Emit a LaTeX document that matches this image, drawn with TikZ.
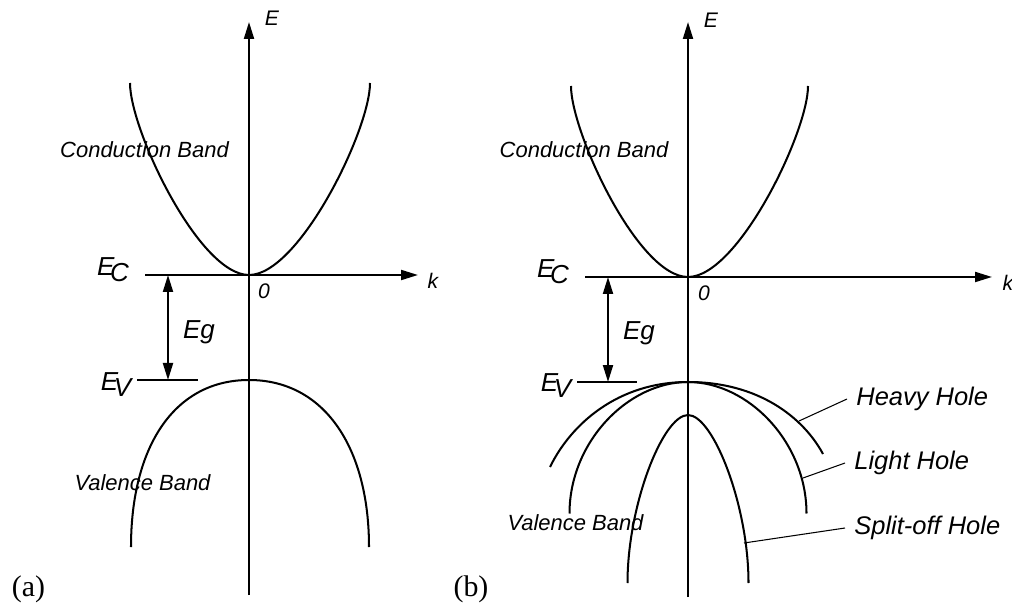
\documentclass[tikz,border=0pt]{standalone}
\usepackage{fontspec}
\setmainfont{Liberation Sans}
\newfontfamily\panelfont{Liberation Serif}
\usetikzlibrary{arrows.meta}
\newcommand{\Elev}[1]{E\kern-0.17em\raisebox{-0.23em}{#1}}

\begin{document}
\begin{tikzpicture}[>={Triangle[length=3.4mm,width=2mm]},
  band/.style={line width=1.15pt},
  axis/.style={line width=1.15pt,->},
  gap/.style={line width=1.15pt,<->},
  leader/.style={line width=0.6pt},
  axlbl/.style={font=\fontsize{12}{14}\selectfont\itshape},
  bandlbl/.style={font=\fontsize{12.5}{14}\selectfont\itshape},
  lvllbl/.style={font=\fontsize{14.8}{17}\selectfont\itshape},
  holelbl/.style={font=\fontsize{14.5}{17}\selectfont\itshape,anchor=west,inner xsep=0.18cm},
  panel/.style={font=\fontsize{17}{20}\selectfont\panelfont}]
  \useasboundingbox (0,0) rectangle (20.24,12.12);
  % (a) simple two-band picture
  \coordinate (aBot) at (4.98,0.22); \coordinate (aTop) at (4.98,11.68);
  \coordinate (aLft) at (2.9,6.62); \coordinate (aRgt) at (8.36,6.62);
  \draw[axis] (aBot) -- (aTop); \draw[axis] (aLft) -- (aRgt);
  \node[axlbl] (aE) at (5.44,11.76) {E};
  \node[axlbl] (ak) at (8.66,6.5) {k};
  \node[axlbl] (a0) at (5.28,6.29) {0};
  \draw[band] (2.6,10.46) .. controls (2.6,9.52) and (3.98,6.62) .. (4.98,6.62)
    .. controls (5.98,6.62) and (7.4,9.52) .. (7.4,10.46);
  \draw[band] (2.62,1.18) .. controls (2.62,3.18) and (3.48,4.52) .. (4.98,4.52)
    .. controls (6.48,4.52) and (7.38,3.18) .. (7.38,1.18);
  \coordinate (aEvL) at (2.74,4.52); \coordinate (aEvR) at (3.96,4.52);
  \draw[band] (aEvL) -- (aEvR);
  \coordinate (aGt) at (3.36,6.62); \coordinate (aGb) at (3.36,4.52);
  \draw[gap] (aGt) -- (aGb);
  \node[lvllbl] (aEc) at (2.26,6.72) {\Elev{C}};
  \node[lvllbl] (aEv) at (2.32,4.42) {\Elev{V}};
  \node[lvllbl] (aEg) at (3.98,5.48) {Eg};
  \node[bandlbl] (aCB) at (2.89,9.12) {Conduction Band};
  \node[bandlbl] (aVB) at (2.85,2.46) {Valence Band};
  \node[panel] (aTag) at (0.57,0.34) {(a)};
  % (b) valence band split into three
  \coordinate (bBot) at (13.76,0.18); \coordinate (bTop) at (13.76,11.68);
  \coordinate (bLft) at (11.7,6.58); \coordinate (bRgt) at (19.84,6.58);
  \draw[axis] (bBot) -- (bTop); \draw[axis] (bLft) -- (bRgt);
  \node[axlbl] (bE) at (14.22,11.71) {E};
  \node[axlbl] (bk) at (20.16,6.46) {k};
  \node[axlbl] (b0) at (14.08,6.26) {0};
  \draw[band] (11.42,10.4) .. controls (11.42,9.48) and (12.76,6.58) .. (13.76,6.58)
    .. controls (14.76,6.58) and (16.16,9.48) .. (16.16,10.4);
  % heavy, light and split-off hole
  \draw[band] (11.0,2.78) .. controls (11.42,3.64) and (12.36,4.48) .. (13.76,4.48)
    .. controls (15.16,4.48) and (16.06,3.78) .. (16.46,3.04);
  \draw[band] (11.39,1.85) .. controls (11.39,3.28) and (12.56,4.48) .. (13.76,4.48)
    .. controls (14.96,4.48) and (16.13,3.28) .. (16.13,1.85);
  \draw[band] (12.55,0.46) .. controls (12.55,2.02) and (13.26,3.82) .. (13.76,3.82)
    .. controls (14.26,3.82) and (14.97,2.02) .. (14.97,0.46);
  \coordinate (bEvL) at (11.54,4.48); \coordinate (bEvR) at (12.74,4.48);
  \draw[band] (bEvL) -- (bEvR);
  \coordinate (bGt) at (12.16,6.58); \coordinate (bGb) at (12.16,4.48);
  \draw[gap] (bGt) -- (bGb);
  \node[lvllbl] (bEc) at (11.06,6.68) {\Elev{C}};
  \node[lvllbl] (bEv) at (11.12,4.40) {\Elev{V}};
  \node[lvllbl] (bEg) at (12.78,5.46) {Eg};
  \node[bandlbl] (bCB) at (11.68,9.12) {Conduction Band};
  \node[bandlbl] (bVB) at (11.51,1.66) {Valence Band};
  \node[holelbl] (hh) at (16.94,4.14) {Heavy Hole};
  \node[holelbl] (lh) at (16.90,2.86) {Light Hole};
  \node[holelbl] (so) at (16.90,1.56) {Split-off Hole};
  \coordinate (hhPt) at (15.98,3.70);
  \coordinate (lhPt) at (16.06,2.56);
  \coordinate (soPt) at (14.88,1.26);
  \draw[leader] (hhPt) -- (hh.west);
  \draw[leader] (lhPt) -- (lh.west);
  \draw[leader] (soPt) -- (so.west);
  \node[panel] (bTag) at (9.42,0.34) {(b)};
\end{tikzpicture}
\end{document}
